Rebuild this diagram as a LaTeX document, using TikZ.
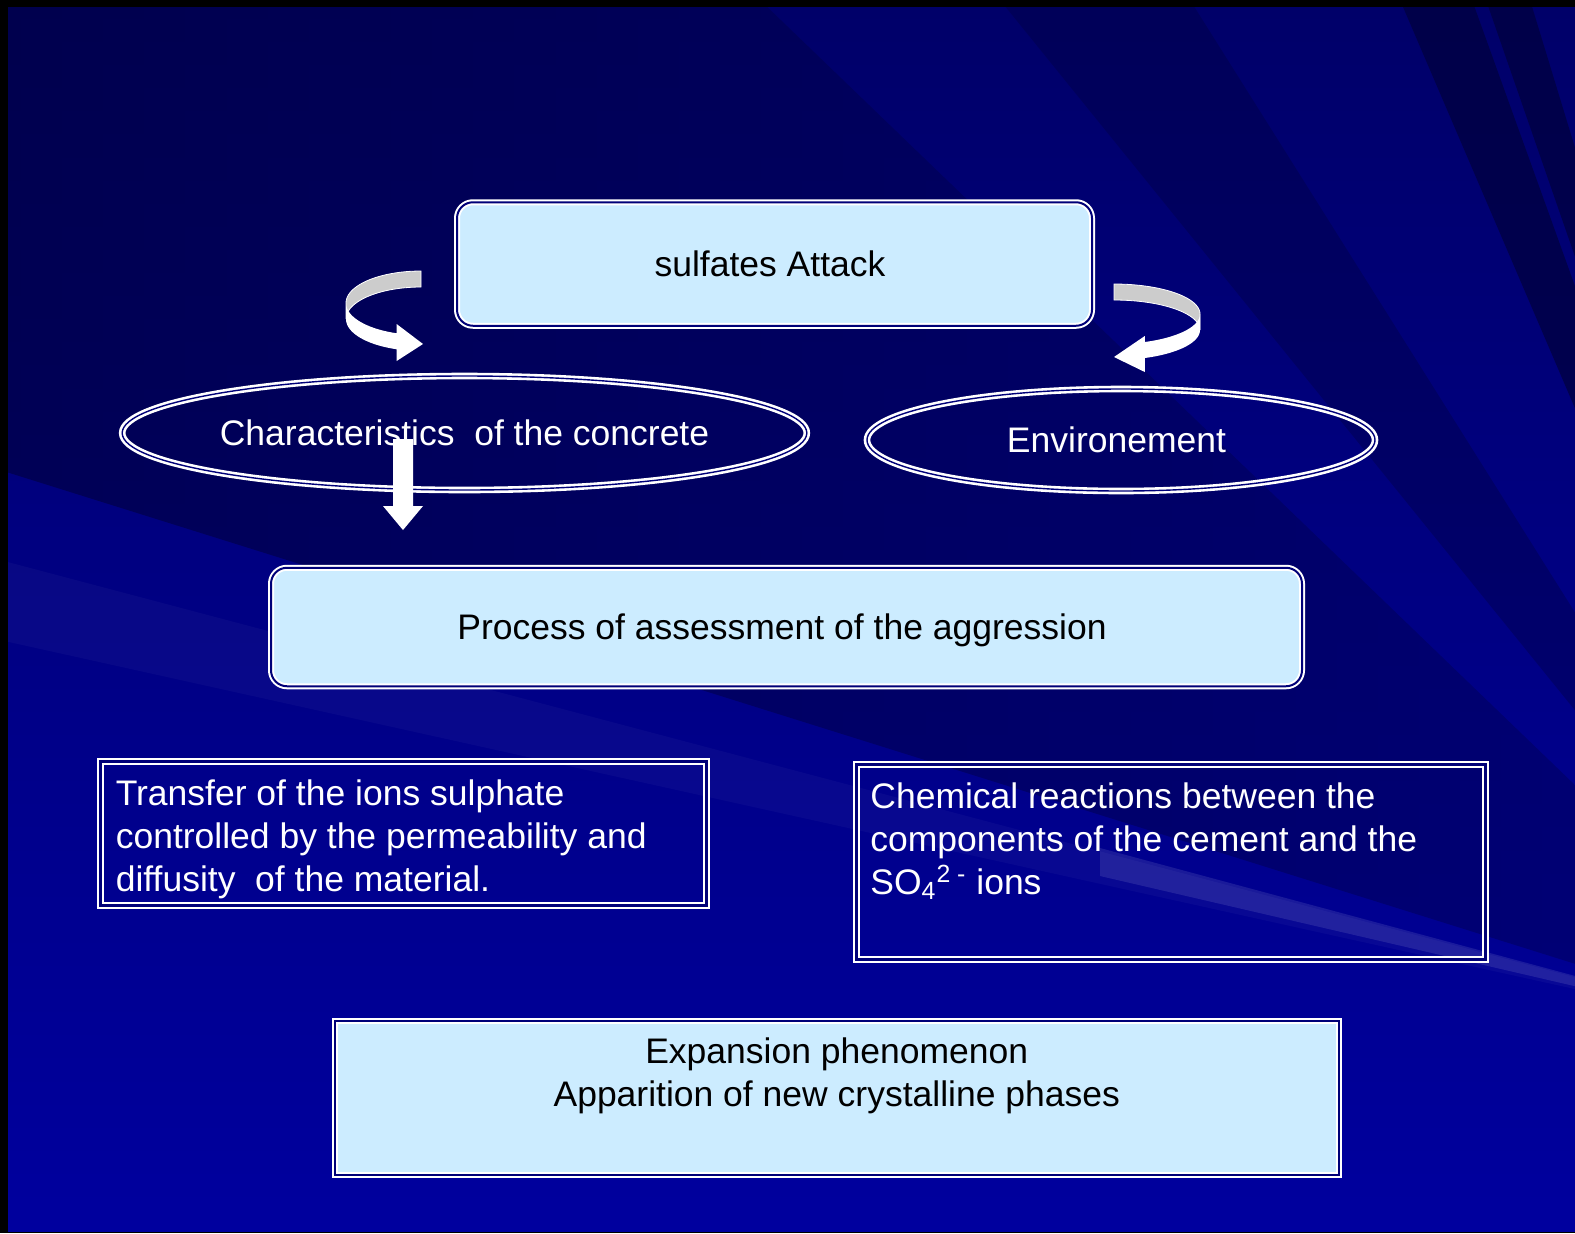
\documentclass[tikz,border=0pt]{standalone}
\usepackage{fontspec}
\setmainfont{Liberation Sans}
\usetikzlibrary{positioning,shapes.geometric}

\definecolor{bgdark}{RGB}{0,0,60}
\definecolor{bgtop}{RGB}{0,0,105}
\definecolor{bgblue}{RGB}{0,0,158}
\definecolor{gapblue}{RGB}{0,0,120}
\definecolor{boxfill}{RGB}{204,236,255}
\definecolor{ribbon}{RGB}{204,204,204}
\newcommand{\slidefont}{\fontsize{17.75}{21.5}\selectfont}

\begin{document}
\begin{tikzpicture}[x=0.5pt,y=-0.5pt,
  roundbox/.style={draw=white,line width=1pt,double=gapblue,double distance=1pt,fill=boxfill,rounded corners=8pt,inner sep=0pt,text depth=0pt,font=\slidefont,text=black},
  squarebox/.style={roundbox,sharp corners},
  darkbox/.style={draw=white,line width=1pt,double=gapblue,double distance=1.5pt,inner sep=0pt},
  ring/.style={ellipse,draw=white,line width=1.3pt,double=gapblue,double distance=0.7pt,inner sep=0pt,font=\slidefont,text=white},
  bodytext/.style={inner sep=0pt,font=\slidefont}]
%Фон
\useasboundingbox (0,0) rectangle (1575,1233);
\fill[black] (0,0) rectangle (1575,1233);
\shade[top color=bgtop,bottom color=bgblue] (8,7) rectangle (1575,1231);
\begin{scope}
\clip (8,7) rectangle (1575,1231);
\coordinate (F) at (1850,1050);
\shade[left color=bgdark,right color=bgtop,opacity=0.6] (F) -- (760,0) -- (0,0) -- (0,470) -- cycle;
\foreach \xa/\ya/\xb/\yb/\c/\o in {1400/0/1472/0/bgdark/0.7, 1486/0/1530/0/bgdark/0.7, 1000/0/1190/0/bgdark/0.35, 0/560/0/640/white/0.03, 1100/848/1100/876/white/0.1}
  \fill[\c,opacity=\o] (F) -- (\xa,\ya) -- (\xb,\yb) -- cycle;
\end{scope}

%Блоки
\node[roundbox,minimum width=317.5pt,minimum height=61.75pt] (attack) at (774.5,264) {sulfates Attack\hspace*{4.5pt}};
\node[ring,inner xsep=-1.3pt,minimum height=57pt] (concrete) at (464.5,433) {Characteristics\ \ of the concrete};
\node[ring,minimum width=254pt,minimum height=51pt] (env) at (1121,440) {Environement\hspace*{4.5pt}};
\node[roundbox,minimum width=515.5pt,minimum height=59.25pt] (process) at (786.5,627) {Process of assessment of the aggression\hspace*{4.5pt}};
\node[darkbox,minimum width=302.8pt,minimum height=71.8pt] (transfer) at (403.2,833.2) {};
\node[bodytext,text=white,align=left,right=8pt of transfer.west,yshift=-3pt] (transfertxt) {Transfer of the ions sulphate\\controlled by the permeability and\\diffusity\ \ of the material.};
\node[darkbox,minimum width=314.5pt,minimum height=97.5pt] (chem) at (1170.5,861.5) {};
\node[bodytext,text=white,align=left,below right=9.75pt and 7.5pt of chem.north west] (chemtxt) {Chemical reactions between the\\components of the cement and the\\SO\textsubscript{4}\textsuperscript{2 -} ions};
\node[squarebox,minimum width=502.25pt,minimum height=77.2pt] (expansion) at (836.75,1097.8) {};
\node[bodytext,text=black,align=center,below=9pt of expansion.north] (exptxt) {Expansion phenomenon\\Apparition of new crystalline phases};

%Стрелки
\fill [domain=270:180,samples=30,ribbon,draw=white,line width=0.4pt] plot ({421+75*cos(\x)},{303+32*sin(\x)}) -- plot[domain=180:270] ({421+75*cos(\x)},{319+32*sin(\x)}) -- cycle;%левая, задняя часть
\fill [domain=180:109,samples=30,white] plot ({421+75*cos(\x)},{303+32*sin(\x)}) -- (396.6,324) -- (423,344) -- (396.6,361) -- (396.6,349.3) -- plot[domain=109:180] ({421+75*cos(\x)},{319+32*sin(\x)}) -- cycle;%левая, передняя часть
\fill [domain=270:360,samples=30,ribbon,draw=white,line width=0.4pt] plot ({1114+86*cos(\x)},{314+30*sin(\x)}) -- plot[domain=360:270] ({1114+86*cos(\x)},{330+30*sin(\x)}) -- cycle;%правая, задняя часть
\fill [domain=0:69,samples=30,white] plot ({1114+86*cos(\x)},{314+30*sin(\x)}) -- (1144.8,336) -- (1114,357) -- (1144.8,372) -- (1144.8,358) -- plot[domain=69:0] ({1114+86*cos(\x)},{330+30*sin(\x)}) -- cycle;%правая, передняя часть
\fill[white] (393,439) -- (413,439) -- (413,506) -- (423,506) -- (403,530) -- (383,506) -- (393,506) -- cycle;%вниз

\end{tikzpicture}
\end{document}
